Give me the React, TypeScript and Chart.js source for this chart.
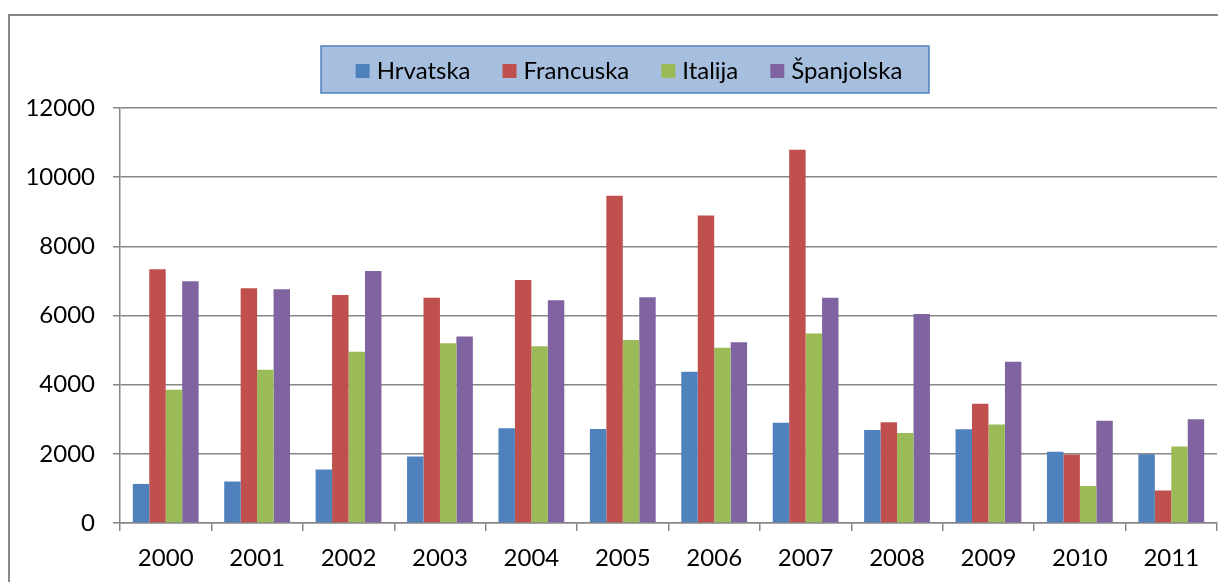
import React, { useEffect, useRef } from "react";
import { Chart, registerables } from "chart.js";

Chart.register(...registerables);

const categories = ["2000", "2001", "2002", "2003", "2004", "2005", "2006", "2007", "2008", "2009", "2010", "2011"];
const hrvatska = [1130, 1200, 1550, 1920, 2740, 2720, 4370, 2900, 2690, 2710, 2060, 1990];
const francuska = [7340, 6790, 6590, 6510, 7030, 9460, 8890, 10790, 2910, 3450, 1980, 940];
const italija = [3850, 4430, 4950, 5200, 5110, 5290, 5070, 5480, 2600, 2850, 1070, 2210];
const spanjolska = [6990, 6760, 7290, 5390, 6440, 6530, 5230, 6510, 6040, 4660, 2960, 3000];
const seriesNames = ["Hrvatska", "Francuska", "Italija", "Španjolska"];
const seriesColors = ["#4F81BD", "#C0504D", "#9BBB59", "#8064A2"];
const yTicks = [0, 2000, 4000, 6000, 8000, 10000, 12000];

const FONT = "Lato, 'Liberation Sans', sans-serif";
const FONT_SIZE = 24;
const GRID = "#878787";

const frameAndLegend = {
  id: "frameAndLegend",
  afterDraw(chart: any) {
    const ctx = chart.ctx;
    ctx.save();
    // outer chart frame (top & left visible)
    ctx.strokeStyle = "#888888";
    ctx.lineWidth = 2;
    ctx.beginPath();
    ctx.moveTo(9, 600);
    ctx.lineTo(9, 15);
    ctx.lineTo(1240, 15);
    ctx.stroke();

    // legend box
    const bx = 321, by = 46, bw = 608, bh = 47;
    ctx.fillStyle = "#A7BFDE";
    ctx.fillRect(bx, by, bw, bh);
    ctx.strokeStyle = "#4F81BD";
    ctx.lineWidth = 1.5;
    ctx.strokeRect(bx, by, bw, bh);

    ctx.font = `${FONT_SIZE}px ${FONT}`;
    const sq = 14, gapText = 7, gapItem = 32;
    const widths = seriesNames.map((n) => ctx.measureText(n).width);
    const total = widths.reduce((a, w) => a + sq + gapText + w, 0) + gapItem * (seriesNames.length - 1);
    let x = bx + (bw - total) / 2 + 4;
    const baseline = 79;
    ctx.textBaseline = "alphabetic";
    ctx.textAlign = "left";
    seriesNames.forEach((n, i) => {
      ctx.fillStyle = seriesColors[i];
      ctx.fillRect(x, 64, sq, sq);
      x += sq + gapText;
      ctx.fillStyle = "#000000";
      ctx.fillText(n, x, baseline);
      x += widths[i] + gapItem;
    });
    ctx.restore();
  },
};

export default function App() {
  const canvasRef = useRef<HTMLCanvasElement | null>(null);

  useEffect(() => {
    if (!canvasRef.current) return;
    const data = [hrvatska, francuska, italija, spanjolska];
    const chart = new Chart(canvasRef.current, {
      type: "bar",
      data: {
        labels: categories,
        datasets: seriesNames.map((name, i) => ({
          label: name,
          data: data[i],
          backgroundColor: seriesColors[i],
          borderWidth: 0,
          categoryPercentage: 0.72,
          barPercentage: 1.0,
        })),
      },
      plugins: [frameAndLegend],
      options: {
        responsive: false,
        animation: false,
        devicePixelRatio: 1,
        layout: { padding: { top: 108, right: 1, left: 0, bottom: 0 } },
        plugins: {
          legend: { display: false },
          tooltip: { enabled: false },
          title: { display: false },
        },
        scales: {
          x: {
            afterFit: (scale: any) => {
              scale.height = 59;
            },
            grid: {
              display: true,
              drawOnChartArea: false,
              drawTicks: true,
              tickLength: 8,
              color: GRID,
              lineWidth: 1.5,
              offset: true,
            },
            border: { display: true, color: GRID, width: 1.5 },
            ticks: {
              color: "#000000",
              font: { family: FONT, size: FONT_SIZE },
              padding: 13,
              maxRotation: 0,
              autoSkip: false,
            },
          },
          y: {
            min: 0,
            max: 12000,
            afterFit: (scale: any) => {
              scale.width = 120;
            },
            afterBuildTicks: (scale: any) => {
              scale.ticks = yTicks.map((v) => ({ value: v }));
            },
            grid: {
              color: GRID,
              lineWidth: 1.5,
              drawTicks: true,
              tickLength: 7,
            },
            border: { display: true, color: GRID, width: 1.5 },
            ticks: {
              color: "#000000",
              font: { family: FONT, size: FONT_SIZE },
              padding: 18,
              callback: (v: any) => String(v),
            },
          },
        },
      },
    });
    return () => chart.destroy();
  }, []);

  return (
    <div style={{ position: "absolute", left: 0, top: 0, width: 1218, height: 582, background: "#ffffff" }}>
      <canvas ref={canvasRef} width={1218} height={582} style={{ display: "block" }} />
    </div>
  );
}
